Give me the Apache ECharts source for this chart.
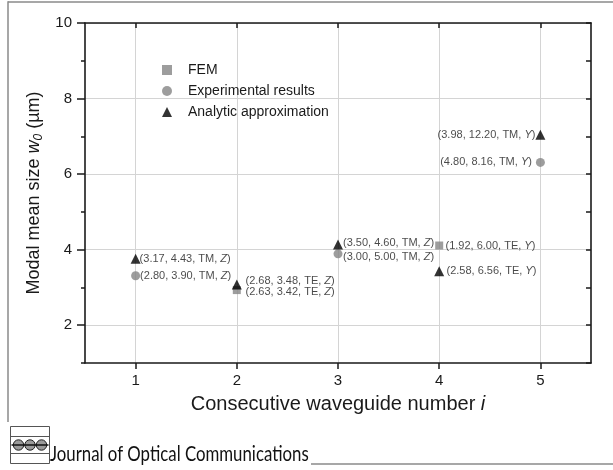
<!DOCTYPE html>
<html>
<head>
<meta charset="utf-8">
<script src="https://cdn.jsdelivr.net/npm/echarts@6/dist/echarts.min.js"></script>
<style>
  html, body { margin: 0; padding: 0; background: #fff; }
  #chart { width: 613px; height: 470px; }
</style>
</head>
<body>
<div id="chart"></div>
<script>
// Waveguide index positions and tick values
const xTicks = [1, 2, 3, 4, 5];
const yTicks = [2, 4, 6, 8, 10];
const yMinorTicks = [1, 2, 3, 4, 5, 6, 7, 8, 9, 10];

// Modal mean size w0 (µm) per waveguide
const femPoints = [[2, 2.93], [4, 4.11]];
const expPoints = [[1, 3.31], [3, 3.89], [5, 6.31]];
const anaPoints = [[1, 3.76], [2, 3.08], [3, 4.14], [4, 3.43], [5, 7.04]];

// Point annotations: (a, b, mode, axis)
const femNotes = [['2.63, 3.42, TE', 'Z'], ['1.92, 6.00, TE', 'Y']];
const expNotes = [['2.80, 3.90, TM', 'Z'], ['3.00, 5.00, TM', 'Z'], ['4.80, 8.16, TM', 'Y']];
const anaNotes = [['3.17, 4.43, TM', 'Z'], ['2.68, 3.48, TE', 'Z'], ['3.50, 4.60, TM', 'Z'], ['2.58, 6.56, TE', 'Y'], ['3.98, 12.20, TM', 'Y']];

// Label placement per point: [position, distance, dy]
const femPlace = [['right', 4.7, 2], ['right', 2.3, 0]];
const expPlace = [['right', 0, 0], ['right', 0.5, 3], ['left', 4, 0]];
const anaPlace = [['right', -1, 0], ['right', 3.7, -3], ['right', 0, -1], ['right', 2.3, 0], ['left', 0, 0]];

const FONT = '"Liberation Sans", Arial, sans-serif';
const labelRich = {
  n: { fontFamily: FONT, fontSize: 11, color: '#1a1a1a' },
  i: { fontFamily: FONT, fontSize: 11, fontStyle: 'italic', color: '#1a1a1a' }
};

function withNotes(points, notes, place) {
  return points.map((p, k) => ({
    value: p,
    label: {
      show: true,
      position: place[k][0],
      distance: place[k][1],
      offset: [0, place[k][2]],
      formatter: '{n|(' + notes[k][0] + ', }{i|' + notes[k][1] + '}{n|)}',
      rich: labelRich
    }
  }));
}

const chart = echarts.init(document.getElementById('chart'), null, { renderer: 'canvas' });

const axisBlack = { show: true, lineStyle: { color: '#1a1a1a', width: 1.6 } };

const option = {
  animation: false,
  backgroundColor: '#fff',
  grid: { left: 85, right: 22, top: 23, bottom: 107, containLabel: false },
  legend: {
    orient: 'vertical',
    left: 157,
    top: 58,
    itemWidth: 10,
    itemHeight: 10,
    itemGap: 7,
    textStyle: { fontFamily: FONT, fontSize: 14, color: '#1a1a1a', padding: [0, 0, 0, 11] },
    data: ['FEM', 'Experimental results', 'Analytic approximation']
  },
  xAxis: [
    {
      type: 'value', min: 0.5, max: 5.5, position: 'bottom',
      name: '{n|Consecutive waveguide number }{i|i}',
      nameLocation: 'middle', nameGap: 31,
      nameTextStyle: {
        rich: {
          n: { fontFamily: FONT, fontSize: 20, color: '#1a1a1a' },
          i: { fontFamily: FONT, fontSize: 20, fontStyle: 'italic', color: '#1a1a1a' }
        }
      },
      axisLine: axisBlack,
      axisTick: { show: true, inside: false, length: 6, customValues: xTicks, lineStyle: { color: '#1a1a1a', width: 1.5 } },
      axisLabel: { show: true, customValues: xTicks, margin: 10, fontFamily: FONT, fontSize: 15, color: '#1a1a1a' },
      splitLine: { show: true, lineStyle: { color: '#d4d4d4', width: 1 } }
    },
    {
      type: 'value', min: 0.5, max: 5.5, position: 'top',
      axisLine: axisBlack,
      axisTick: { show: true, inside: true, length: 5, customValues: xTicks, lineStyle: { color: '#1a1a1a', width: 1.5 } },
      axisLabel: { show: false },
      splitLine: { show: false }
    }
  ],
  yAxis: [
    {
      type: 'value', min: 1, max: 10, position: 'left',
      name: '{n|Modal mean size }{i|w}{s|0}{n| (µm)}',
      nameLocation: 'middle', nameGap: 36, nameRotate: 90,
      nameTextStyle: {
        rich: {
          n: { fontFamily: FONT, fontSize: 18, color: '#1a1a1a' },
          i: { fontFamily: FONT, fontSize: 18, fontStyle: 'italic', color: '#1a1a1a' },
          s: { fontFamily: FONT, fontSize: 12, fontStyle: 'italic', color: '#1a1a1a', padding: [8, 0, 0, 0] }
        }
      },
      axisLine: axisBlack,
      axisTick: { show: true, inside: false, length: 8, customValues: yTicks, lineStyle: { color: '#1a1a1a', width: 1.5 } },
      axisLabel: { show: true, customValues: yTicks, margin: 13, fontFamily: FONT, fontSize: 15, color: '#1a1a1a' },
      splitLine: { show: true, lineStyle: { color: '#d4d4d4', width: 1 } }
    },
    {
      // short outward ticks at every integer on the left edge
      type: 'value', min: 1, max: 10, position: 'left',
      axisLine: { show: false },
      axisTick: { show: true, inside: false, length: 4, customValues: yMinorTicks, lineStyle: { color: '#1a1a1a', width: 1.5 } },
      axisLabel: { show: false },
      splitLine: { show: false }
    },
    {
      type: 'value', min: 1, max: 10, position: 'right',
      axisLine: axisBlack,
      axisTick: { show: true, inside: true, length: 5, customValues: yMinorTicks, lineStyle: { color: '#1a1a1a', width: 1.5 } },
      axisLabel: { show: false },
      splitLine: { show: false }
    }
  ],
  series: [
    {
      name: 'FEM', type: 'scatter', symbol: 'rect', symbolSize: 8,
      itemStyle: { color: '#858585' },
      data: withNotes(femPoints, femNotes, femPlace), z: 3
    },
    {
      name: 'Experimental results', type: 'scatter', symbol: 'circle', symbolSize: 9,
      itemStyle: { color: '#858585' },
      data: withNotes(expPoints, expNotes, expPlace), z: 3
    },
    {
      name: 'Analytic approximation', type: 'scatter', symbol: 'triangle', symbolSize: 10,
      itemStyle: { color: '#000' },
      data: withNotes(anaPoints, anaNotes, anaPlace), z: 4
    }
  ],
  graphic: [
    // page frame
    { type: 'line', shape: { x1: 8, y1: 2, x2: 613, y2: 2 }, style: { stroke: '#8a8a8a', lineWidth: 1.5 }, silent: true },
    { type: 'line', shape: { x1: 8, y1: 1.3, x2: 8, y2: 422 }, style: { stroke: '#8a8a8a', lineWidth: 1.5 }, silent: true },
    { type: 'line', shape: { x1: 311, y1: 464, x2: 613, y2: 464 }, style: { stroke: '#8a8a8a', lineWidth: 1.5 }, silent: true },
    // journal emblem
    {
      type: 'group', left: 8, top: 426, silent: true,
      children: [
        { type: 'rect', shape: { x: 0, y: 0, width: 39, height: 37 }, style: { fill: '#fff', stroke: '#555', lineWidth: 1 } },
        { type: 'line', shape: { x1: 0, y1: 10, x2: 39, y2: 10 }, style: { stroke: '#555', lineWidth: 1 } },
        { type: 'line', shape: { x1: 0, y1: 27, x2: 39, y2: 27 }, style: { stroke: '#555', lineWidth: 1 } },
        { type: 'circle', shape: { cx: 8, cy: 18.5, r: 5.2 }, style: { fill: '#9a9a9a', stroke: '#222', lineWidth: 1 } },
        { type: 'circle', shape: { cx: 19.5, cy: 18.5, r: 5.2 }, style: { fill: '#9a9a9a', stroke: '#222', lineWidth: 1 } },
        { type: 'circle', shape: { cx: 31, cy: 18.5, r: 5.2 }, style: { fill: '#9a9a9a', stroke: '#222', lineWidth: 1 } },
        { type: 'line', shape: { x1: 1, y1: 18.5, x2: 38, y2: 18.5 }, style: { stroke: '#111', lineWidth: 1.3 } }
      ]
    },
    {
      type: 'text', x: 50, y: 444, scaleX: 0.8, silent: true,
      style: { text: 'Journal of Optical Communications', font: '21px Lato, "Noto Sans", sans-serif', fill: '#111' }
    }
  ]
};

chart.setOption(option);
</script>
</body>
</html>
